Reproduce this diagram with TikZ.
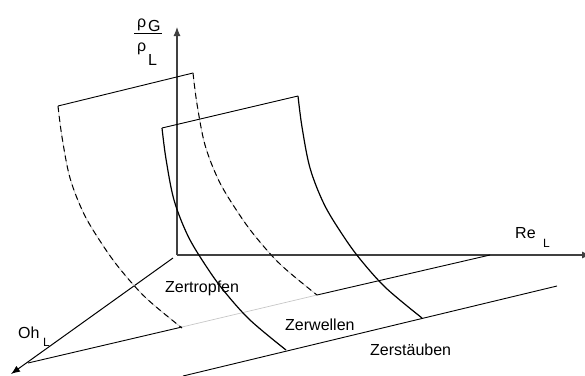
\documentclass[tikz,border=0pt]{standalone}
\usepackage{fontspec}
\setmainfont{Liberation Sans}
\usetikzlibrary{arrows.meta}
\begin{document}
\begin{tikzpicture}[x=1pt,y=-1pt,
  edge/.style={line width=0.9pt, black},
  solidcurve/.style={line width=1.2pt, black},
  faint/.style={line width=0.7pt, black!22},
  dashcurve/.style={line width=1pt, black, dash pattern=on 6pt off 4pt},
  axis/.style={line width=1.1pt, black!75, -{Latex[length=9pt,width=7pt]}},
  lbl/.style={inner sep=0pt, anchor=base west, font=\fontsize{16}{18}\selectfont},
  sub/.style={inner sep=0pt, anchor=base west, font=\fontsize{12}{13}\selectfont},
  bcurve/.pic={\draw[pic actions] plot[smooth, tension=0.55] coordinates {(0,0) (4,31) (12,72) (26,108) (44,138) (62,163) (88,192) (124,222)};}
]
\useasboundingbox (0,0) rectangle (585,375);
% key points
\coordinate (O) at (177,255);
\coordinate (Ytip) at (177,27);
\coordinate (Xtip) at (591,255);
\coordinate (Zs) at (173,258);
\coordinate (Ztip) at (11,374);
\coordinate (A1) at (58,106);
\coordinate (A2) at (193,73);
\coordinate (B1) at (162,128);
\coordinate (B2) at (298,96);
\coordinate (LA0) at (28,363);
\coordinate (LA1) at (182,327);
\coordinate (LA2) at (317,295);
\coordinate (LA3) at (490,255);
\coordinate (LB0) at (183,376);
\coordinate (LB1) at (557,286);

% axes
\draw[axis] (O) -- (Ytip);
\draw[axis] (O) -- (Xtip);
\draw[axis, black, line width=1pt] (Zs) -- (Ztip);

% base lines
\draw[edge] (LA0) -- (LA1);
\draw[faint] (LA1) -- (LA2);
\draw[edge] (LA2) -- (LA3);
\draw[edge] (LB0) -- (LB1);

% surface 1 (hidden, dashed)
\draw[edge] (A1) -- (A2);
\pic[faint] at (A1) {bcurve};
\pic[dashcurve] at (A1) {bcurve};
\pic[faint] at (A2) {bcurve};
\pic[dashcurve] at (A2) {bcurve};

% surface 2 (solid)
\draw[edge] (B1) -- (B2);
\pic[solidcurve] at (B1) {bcurve};
\pic[solidcurve] at (B2) {bcurve};

% fraction label
\node[lbl] (rhoG) at (137,27) {ρ};
\node[lbl] (G) at (148,31) {G};
\draw[line width=0.9pt] (134,33) -- (162,33);
\node[lbl] (rhoL) at (137,51) {ρ};
\node[lbl] (Lr) at (148,65) {L};

% axis labels
\node[lbl] (Re) at (515,238) {Re};
\node[sub] (ReL) at (543,247) {L};
\node[lbl] (Oh) at (18,338) {Oh};
\node[sub] (OhL) at (43,346) {L};

% regime labels
\node[lbl] (zt) at (165,292) {Zertropfen};
\node[lbl] (zw) at (285,330) {Zerwellen};
\node[lbl] (zs) at (370,355) {Zerstäuben};
\end{tikzpicture}
\end{document}
